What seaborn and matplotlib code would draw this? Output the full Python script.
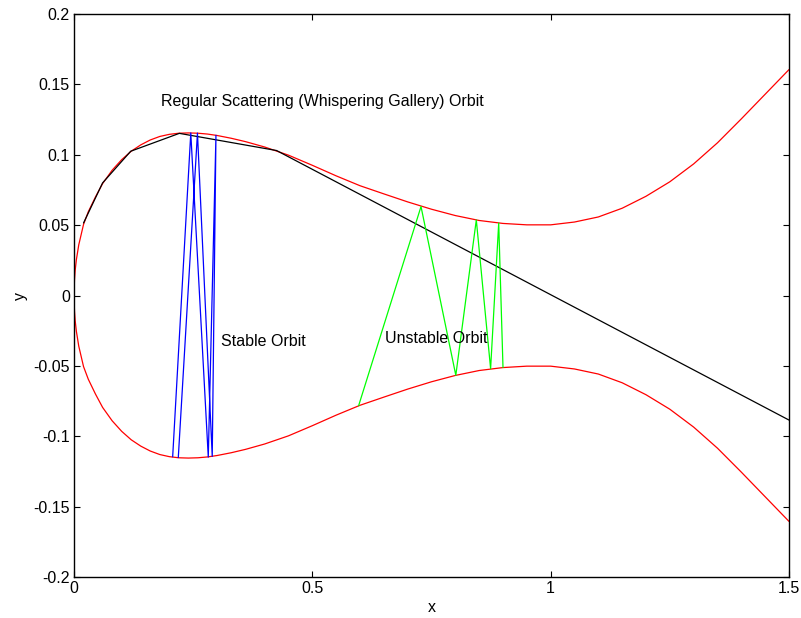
import matplotlib
matplotlib.use("Agg")
import matplotlib.pyplot as plt
import seaborn as sns
import pandas as pd

# Boundary half-width (curve is y = +/- wall_y)
wall_x = [0, 0.001, 0.0025, 0.005, 0.01, 0.02, 0.03, 0.045, 0.06, 0.08, 0.1, 0.12,
          0.14, 0.16, 0.18, 0.2, 0.22, 0.24, 0.26, 0.28, 0.3, 0.33, 0.36, 0.4, 0.45,
          0.5, 0.55, 0.6, 0.65, 0.7, 0.75, 0.8, 0.85, 0.9, 0.95, 1.0, 1.05, 1.1, 1.15,
          1.2, 1.25, 1.3, 1.35, 1.4, 1.45, 1.5]
wall_y = [0, 0.011, 0.018, 0.0255, 0.036, 0.0505, 0.0595, 0.070, 0.0795, 0.089,
          0.0965, 0.1025, 0.107, 0.1105, 0.113, 0.1145, 0.1153, 0.1155, 0.1153, 0.1147,
          0.1137, 0.1117, 0.1093, 0.1055, 0.0997, 0.0925, 0.085, 0.078, 0.0722, 0.0665,
          0.0613, 0.0568, 0.0533, 0.0512, 0.0502, 0.0502, 0.0522, 0.0558, 0.0620,
          0.0705, 0.0808, 0.0935, 0.1085, 0.1255, 0.1430, 0.1605]

# Whispering gallery orbit (black)
wg_x = [0.020, 0.060, 0.119, 0.221, 0.425, 1.5]
wg_y = [0.0515, 0.080, 0.1025, 0.1152, 0.1030, -0.0885]

# Stable orbit (blue)
st_x = [0.207, 0.245, 0.2817, 0.2978, 0.290, 0.259, 0.2188]
st_y = [-0.1146, 0.1155, -0.1148, 0.1138, -0.1143, 0.1154, -0.1151]

# Unstable orbit (green)
un_x = [0.597, 0.728, 0.801, 0.844, 0.874, 0.891, 0.900]
un_y = [-0.0784, 0.0632, -0.0567, 0.0537, -0.0520, 0.0515, -0.0512]

x_ticks = [0, 0.5, 1, 1.5]
x_labels = ["0", "0.5", "1", "1.5"]
y_ticks = [-0.2, -0.15, -0.1, -0.05, 0, 0.05, 0.1, 0.15, 0.2]
y_labels = ["-0.2", "-0.15", "-0.1", "-0.05", "0", "0.05", "0.1", "0.15", "0.2"]

sns.set_style("ticks")
plt.rcParams['font.family'] = ['Liberation Sans', 'DejaVu Sans']
plt.rcParams['text.color'] = 'black'
plt.rcParams['axes.labelcolor'] = 'black'

FS = 11.5
fig = plt.figure(figsize=(8.01, 6.18), dpi=100)
ax = fig.add_axes([74/801, 41/618, (789-74)/801, (577-14)/618])

lw = 0.9
upper = pd.DataFrame({"x": wall_x, "y": wall_y})
lower = pd.DataFrame({"x": wall_x, "y": [-v for v in wall_y]})
sns.lineplot(data=upper, x="x", y="y", sort=False, estimator=None, color="#ff0000", lw=lw, ax=ax)
sns.lineplot(data=lower, x="x", y="y", sort=False, estimator=None, color="#ff0000", lw=lw, ax=ax)
sns.lineplot(x=wg_x, y=wg_y, sort=False, estimator=None, color="black", lw=lw, ax=ax)
sns.lineplot(x=st_x, y=st_y, sort=False, estimator=None, color="#0000ff", lw=lw, ax=ax)
sns.lineplot(x=un_x, y=un_y, sort=False, estimator=None, color="#00ff00", lw=lw, ax=ax)

ax.text(0.1825, 0.138, "Regular Scattering (Whispering Gallery) Orbit", fontsize=FS, va="center", ha="left")
ax.text(0.308, -0.0325, "Stable Orbit", fontsize=FS, va="center", ha="left")
ax.text(0.652, -0.0305, "Unstable Orbit", fontsize=FS, va="center", ha="left")

ax.set_xlim(0, 1.5)
ax.set_ylim(-0.2, 0.2)
ax.set_xticks(x_ticks)
ax.set_xticklabels(x_labels)
ax.set_yticks(y_ticks)
ax.set_yticklabels(y_labels)
ax.tick_params(direction="in", length=4, width=0.8, top=True, right=True,
               labelsize=FS, colors="black", pad=3)
for s in ax.spines.values():
    s.set_visible(True)
    s.set_linewidth(1.0)
    s.set_color("black")
ax.set_xlabel("x", fontsize=FS, labelpad=3)
ax.set_ylabel("y", fontsize=FS, labelpad=4)

fig.savefig("out.png", dpi=100)
